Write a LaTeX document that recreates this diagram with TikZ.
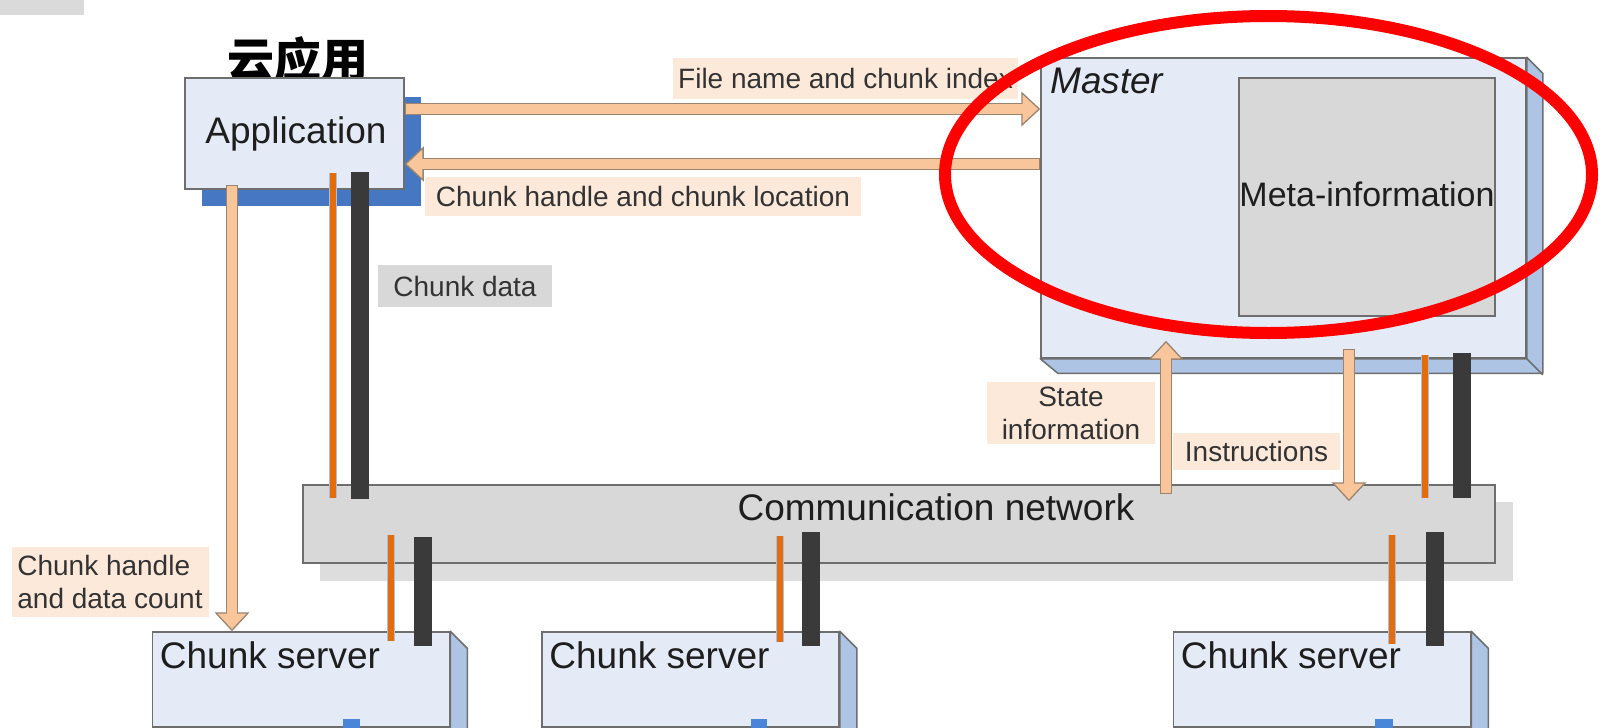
\documentclass[tikz,border=0pt]{standalone}
\usepackage{fontspec}
\setmainfont{Liberation Sans}
\newfontfamily\cjk{Noto Sans CJK SC}
\usetikzlibrary{arrows.meta,calc}
\definecolor{boxblue}{HTML}{E4EBF6}
\definecolor{sideblue}{HTML}{AEC4E4}
\definecolor{edgegray}{HTML}{6E6E6E}
\definecolor{netgray}{HTML}{D8D8D8}
\definecolor{shadowgray}{HTML}{DDDDDD}
\definecolor{tabgray}{HTML}{DADADA}
\definecolor{peach}{HTML}{F9C59A}
\definecolor{peachline}{HTML}{9C8570}
\definecolor{labelbg}{HTML}{FDE9DA}
\definecolor{orangebar}{HTML}{E46C0A}
\definecolor{barrim}{HTML}{A9BFE0}
\definecolor{darkbar}{HTML}{3A3A3A}
\definecolor{appshadow}{HTML}{4677C3}
\definecolor{portblue}{HTML}{4A86D8}
\definecolor{textdark}{HTML}{1E1E1E}
\definecolor{labeltext}{HTML}{333333}
\tikzset{
 txtmain/.style={font=\fontsize{37}{40}\selectfont, text=textdark, inner sep=0pt},
 txtlbl/.style={font=\fontsize{28}{33}\selectfont, text=labeltext},
 frontbox/.style={draw=edgegray, line width=1.5pt, fill=boxblue, inner sep=0pt},
 sideface/.style={draw=edgegray, line width=1.5pt, fill=sideblue, line join=round},
 graybox/.style={draw=edgegray, line width=1.5pt, fill=netgray, inner sep=0pt},
 lblbox/.style={fill=labelbg, inner sep=0pt, txtlbl},
 blockarrow/.style={draw=peachline, line width=12.5pt,
   -{Triangle[length=19pt,width=35pt,fill=peach,line width'=1.3pt]},
   postaction={draw=peach, line width=10pt, -, shorten >=17.5pt, shorten <=1.3pt}},
 obar/.style={draw=orangebar, line width=6pt, preaction={draw=barrim, line width=8pt}},
 dbar/.style={draw=darkbar, line width=18pt},
}
\begin{document}
\begin{tikzpicture}[x=1pt,y=-1pt]
\useasboundingbox (0,0) rectangle (1604,728);
\clip (0,0) rectangle (1604,728);
\fill[white] (0,0) rectangle (1604,728);
\fill[tabgray] (0,0) rectangle (84,15);

% title
\node[font=\cjk\bfseries\fontsize{47}{50}\selectfont, text=black, anchor=base, inner sep=0pt] (title) at (298,77) {云应用};

% application
\fill[appshadow] (202,97) rectangle (421,206);
\node[frontbox, minimum width=219pt, minimum height=111pt] (app) at (294.5,133.5) {};
\node[txtmain, anchor=base] (apptext) at (296,143) {Application};

% master
\node[frontbox, minimum width=485pt, minimum height=300pt] (master) at (1283.5,208) {};
\draw[sideface] (master.north east) -- ++(16,16) -- ++(0,300) -- ++(-485,0) -- (master.south west) -- (master.south east) -- cycle;
\draw[draw=edgegray, line width=1.5pt] (master.south east) -- ++(16,16);
\node[txtmain, font=\fontsize{37}{40}\selectfont\itshape, anchor=base west] (mastertext) at (1050,93) {Master};
\node[graybox, minimum width=256pt, minimum height=238pt] (meta) at (1367,197) {};
\node[txtmain, font=\fontsize{34}{36}\selectfont, anchor=base] (metatext) at (1367,206) {Meta-information};

% network
\fill[shadowgray] (320,502) rectangle (1513,581);
\node[graybox, minimum width=1192pt, minimum height=78pt] (net) at (899,524) {};
\node[txtmain, anchor=base] (nettext) at (936,520) {Communication network};

% chunk servers
\foreach \n/\cx in {cs1/301, cs2/690.5, cs3/1322}{
  \node[frontbox, minimum width=297pt, minimum height=95pt] (\n) at (\cx,679.5) {};
  \draw[sideface] (\n.north east) -- ++(17,17) -- ++(0,120) -- ++(-17,0) -- cycle;
  \node[txtmain, anchor=base west] (\n text) at ($(\n.north west)+(8,37)$) {Chunk server};
}
\fill[portblue] (343,719) rectangle (360,729);
\fill[portblue] (751,719) rectangle (767,729);
\fill[portblue] (1375,719) rectangle (1393,729);

% data bars
\draw[obar] ($(app.south -| 333,0)+(0,-17)$) -- ($(net.north -| 333,0)+(0,14)$);
\draw[dbar] ($(app.south -| 360,0)+(0,-18)$) -- ($(net.north -| 360,0)+(0,15)$);
\draw[obar] ($(master.south -| 1425,0)+(0,-4)$) -- ($(net.north -| 1425,0)+(0,14)$);
\draw[dbar] ($(master.south -| 1462,0)+(0,-6)$) -- ($(net.north -| 1462,0)+(0,14)$);
\draw[obar] ($(net.north -| 391,0)+(0,51)$) -- ($(cs1.north -| 391,0)+(0,10)$);
\draw[dbar] ($(net.north -| 423,0)+(0,53)$) -- ($(cs1.north -| 423,0)+(0,15)$);
\draw[obar] ($(net.north -| 780,0)+(0,52)$) -- ($(cs2.north -| 780,0)+(0,11)$);
\draw[dbar] ($(net.north -| 811,0)+(0,48)$) -- ($(cs2.north -| 811,0)+(0,15)$);
\draw[obar] ($(net.north -| 1392,0)+(0,51)$) -- ($(cs3.north -| 1392,0)+(0,13)$);
\draw[dbar] ($(net.north -| 1435,0)+(0,48)$) -- ($(cs3.north -| 1435,0)+(0,15)$);

% block arrows
\draw[blockarrow] (app.east |- 0,109) -- (master.west |- 0,109);
\draw[blockarrow] (master.west |- 0,164) -- (app.east |- 0,164);
\draw[blockarrow] ($(app.south -| 232,0)+(0,-5)$) -- (cs1.north -| 232,0);
\draw[blockarrow] ($(net.north -| 1166,0)+(0,10)$) -- ($(master.south -| 1166,0)+(0,-18)$);
\draw[blockarrow] ($(master.south -| 1349,0)+(0,-10)$) -- ($(net.north -| 1349,0)+(0,17)$);

% labels
\node[lblbox, minimum width=345pt, minimum height=41pt] (l1) at (845.5,78.5) {File name and chunk index};
\node[lblbox, minimum width=436pt, minimum height=39pt] (l2) at (643,196.5) {Chunk handle and chunk location};
\node[lblbox, fill=netgray, minimum width=174pt, minimum height=42pt] (l3) at (465,286) {Chunk data};
\node[lblbox, minimum width=197pt, minimum height=70pt, align=left] (l4) at (110,582) {Chunk handle\\and data count};
\node[lblbox, minimum width=168pt, minimum height=62pt, align=center] (l5) at (1071,413) {State\\information};
\node[lblbox, minimum width=167pt, minimum height=37pt] (l6) at (1256.5,451.5) {Instructions};

% highlight
\draw[red, line width=12pt] (1268.5,174.5) ellipse [x radius=323.5pt, y radius=158.5pt];
\end{tikzpicture}
\end{document}
